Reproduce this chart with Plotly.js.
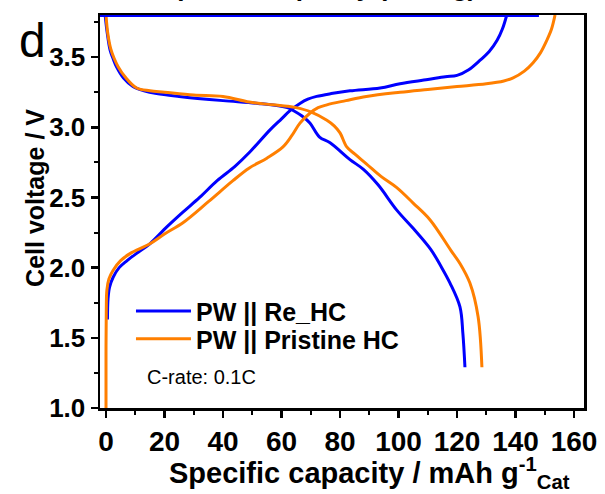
<!DOCTYPE html>
<html>
<head>
<meta charset="utf-8">
<script src="https://cdn.plot.ly/plotly-3.0.1.min.js"></script>
<style>html,body{margin:0;padding:0;background:#fff;}#chart{width:605px;height:494px;}</style>
</head>
<body>
<div id="chart"></div>
<script>
// ---- data ----
var seriesNames = ["PW || Re_HC", "PW || Pristine HC"];

// PW || Re_HC, charge
var reChargeX = [0.5, 0.7, 1.2, 2.4, 4.5, 7.2, 11, 15, 20.8, 26, 32, 38, 44, 49, 56, 60, 63, 66.3, 69, 72, 77, 83.4, 93.7, 100.5, 110, 116, 120, 124, 128, 131, 133.7, 135.5, 137];
var reChargeY = [1.63, 1.78, 1.86, 1.93, 2.00, 2.05, 2.11, 2.17, 2.29, 2.39, 2.50, 2.62, 2.72, 2.82, 2.98, 3.06, 3.12, 3.17, 3.20, 3.22, 3.24, 3.26, 3.28, 3.31, 3.34, 3.36, 3.37, 3.41, 3.48, 3.54, 3.62, 3.70, 3.80];
// PW || Re_HC, cut-off segment along the 3.8 V limit
var reLimitX = [-2.05, 148];
var reLimitY = [3.80, 3.80];
// PW || Re_HC, discharge
var reDischargeX = [-0.3, 0.5, 1.4, 2.4, 3.6, 6, 9.2, 13, 17.3, 25, 40, 52, 62, 64, 67, 69.7, 73, 76.6, 83.4, 88, 93, 99.4, 105, 111, 114.5, 117.6, 121, 122, 122.7];
var reDischargeY = [3.80, 3.66, 3.55, 3.49, 3.43, 3.35, 3.29, 3.26, 3.24, 3.22, 3.19, 3.17, 3.14, 3.12, 3.08, 3.03, 2.93, 2.89, 2.77, 2.70, 2.59, 2.41, 2.28, 2.13, 2.01, 1.89, 1.72, 1.53, 1.29];

// PW || Pristine HC, charge
var prChargeX = [0, 0, 0.1, 0.3, 1, 2.4, 5, 8.2, 15, 20, 26.3, 35, 43.4, 49, 55, 60.5, 63.5, 66.3, 69.7, 72.5, 75.5, 82, 89, 100.5, 110, 120, 130, 136, 139, 143, 146, 148.5, 150.7, 152.3, 153.5];
var prChargeY = [1.00, 1.40, 1.70, 1.84, 1.92, 1.98, 2.05, 2.10, 2.17, 2.24, 2.32, 2.47, 2.62, 2.71, 2.78, 2.86, 2.94, 3.03, 3.10, 3.14, 3.16, 3.19, 3.22, 3.25, 3.27, 3.29, 3.31, 3.33, 3.35, 3.40, 3.46, 3.53, 3.62, 3.70, 3.80];
// PW || Pristine HC, discharge
var prDischargeX = [0, 0.6, 1.6, 2.8, 4.2, 6.5, 10.5, 15, 20, 30, 40, 49, 57, 62, 65, 70, 75.5, 78, 80, 82.3, 85, 89, 94, 99.4, 105, 110.8, 118, 121, 124.4, 127.2, 128.5];
var prDischargeY = [3.80, 3.67, 3.56, 3.49, 3.43, 3.36, 3.28, 3.26, 3.25, 3.23, 3.22, 3.18, 3.16, 3.15, 3.14, 3.11, 3.05, 3.01, 2.96, 2.86, 2.81, 2.74, 2.65, 2.57, 2.46, 2.34, 2.12, 2.03, 1.89, 1.65, 1.29];

var xTickVals = [0, 20, 40, 60, 80, 100, 120, 140, 160];
var xTickText = ["0", "20", "40", "60", "80", "100", "120", "140", "160"];
var yTickVals = [1.0, 1.5, 2.0, 2.5, 3.0, 3.5];
var yTickText = ["1.0", "1.5", "2.0", "2.5", "3.0", "3.5"];

// ---- styling ----
var BLUE = "#0000ff", ORANGE = "#ff7f00";
var FONT = "Liberation Sans, Arial, sans-serif";
var LW = 3;

function ln(color, w) { return {color: color, width: w, shape: "spline", smoothing: 1}; }

var traces = [
  {x: reChargeX, y: reChargeY, mode: "lines", name: seriesNames[0], legendgroup: "re", legend: "legend",
   line: ln(BLUE, LW)},
  {x: reDischargeX, y: reDischargeY, mode: "lines", name: seriesNames[0], legendgroup: "re", showlegend: false,
   line: ln(BLUE, LW)},
  {x: prChargeX, y: prChargeY, mode: "lines", name: seriesNames[1], legendgroup: "pr", legend: "legend2",
   line: ln(ORANGE, LW)},
  {x: prDischargeX, y: prDischargeY, mode: "lines", name: seriesNames[1], legendgroup: "pr", showlegend: false,
   line: ln(ORANGE, LW)},
  {x: reLimitX, y: reLimitY, mode: "lines", name: seriesNames[0], legendgroup: "re", showlegend: false,
   line: {color: BLUE, width: 4}}
];

var legendFont = {family: FONT, size: 25, weight: "bold", color: "#000"};

var layout = {
  width: 605, height: 494,
  margin: {l: 100, r: 21, t: 15, b: 86, pad: 0},
  paper_bgcolor: "#ffffff", plot_bgcolor: "#ffffff",
  font: {family: FONT, color: "#000"},
  showlegend: true,
  legend: {x: 0.064, y: 0.305, xanchor: "left", yanchor: "top", bgcolor: "rgba(0,0,0,0)",
           font: legendFont, itemwidth: 55},
  legend2: {x: 0.064, y: 0.234, xanchor: "left", yanchor: "top", bgcolor: "rgba(0,0,0,0)",
           font: legendFont, itemwidth: 55},
  xaxis: {
    range: [-2.05, 163.4], tickmode: "array", tickvals: xTickVals, ticktext: xTickText,
    ticks: "outside", ticklen: 7, tickwidth: 2.5, tickcolor: "#000",
    minor: {dtick: 10, tick0: 0, ticks: "outside", ticklen: 4, tickwidth: 2, tickcolor: "#000"},
    showline: true, linewidth: 2.5, linecolor: "#000", mirror: true,
    showgrid: false, zeroline: false, layer: "below traces",
    tickfont: {family: FONT, size: 28, weight: "bold", color: "#000"}
  },
  yaxis: {
    range: [1.0, 3.8], tickmode: "array", tickvals: yTickVals, ticktext: yTickText,
    ticks: "outside", ticklen: 7, tickwidth: 2.5, tickcolor: "#000",
    minor: {dtick: 0.25, tick0: 1.0, ticks: "outside", ticklen: 4, tickwidth: 2, tickcolor: "#000"},
    showline: true, linewidth: 2.5, linecolor: "#000", mirror: true,
    showgrid: false, zeroline: false, layer: "below traces",
    tickfont: {family: FONT, size: 26, weight: "bold", color: "#000"}
  },
  annotations: [
    // x-axis title
    {text: "Specific capacity / mAh g<sup>-1</sup><sub>Cat</sub>", xref: "paper", yref: "paper",
     x: 0.556, y: -0.166, xanchor: "center", yanchor: "middle", showarrow: false,
     font: {family: FONT, size: 29, weight: "bold", color: "#000"}},
    // y-axis title
    {text: "Cell voltage / V", xref: "paper", yref: "paper", x: -0.134, y: 0.535, textangle: -90,
     xanchor: "center", yanchor: "middle", showarrow: false,
     font: {family: FONT, size: 25, weight: "bold", color: "#000"}},
    {text: "C-rate: 0.1C", xref: "paper", yref: "paper", x: 0.092, y: 0.078, xanchor: "left", yanchor: "middle",
     showarrow: false, font: {family: FONT, size: 20, color: "#000"}},
    {text: "d", xref: "paper", yref: "paper", x: -0.139, y: 0.935, xanchor: "center", yanchor: "middle",
     showarrow: false, font: {family: FONT, size: 48, color: "#000"}},
    {text: "Specific capacity (mAh/g)", xref: "paper", yref: "paper", x: 0.45, y: 1.028, xanchor: "center", yanchor: "bottom",
     showarrow: false, font: {family: FONT, size: 26, weight: "bold", color: "#000"}}
  ]
};

Plotly.newPlot("chart", traces, layout, {displayModeBar: false, staticPlot: true});
</script>
</body>
</html>
